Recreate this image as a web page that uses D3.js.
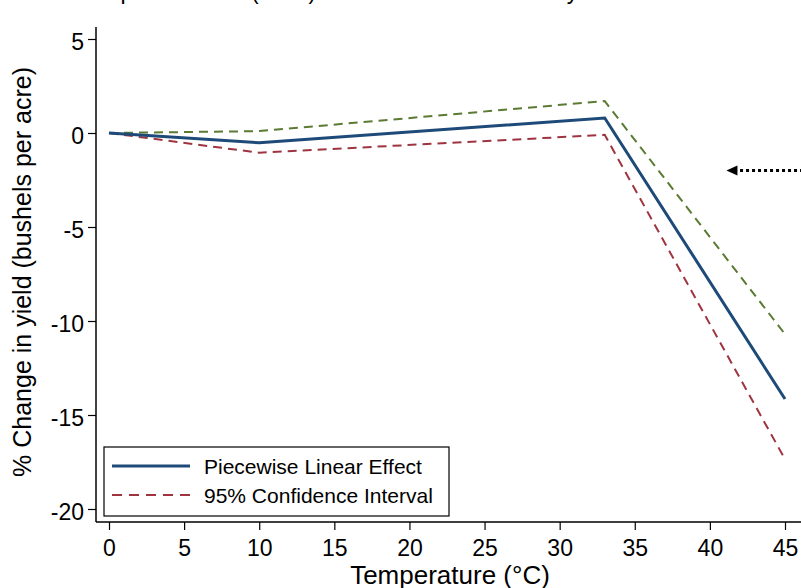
<!DOCTYPE html>
<html>
<head>
<meta charset="utf-8">
<script src="https://cdn.jsdelivr.net/npm/d3@7"></script>
<style>
  html, body { margin: 0; padding: 0; background: #fff; }
  svg { display: block; font-family: "Liberation Sans", Arial, sans-serif; }
</style>
</head>
<body>
<div id="chart"></div>
<script>
// Piecewise linear temperature effect with 95% CI
const temps = [0, 10, 33, 45];
const effect = [0, -0.52, 0.8, -14.15];
const upperCI = [0, 0.1, 1.7, -10.7];
const lowerCI = [0, -1.05, -0.1, -17.35];
const xTicks = [0, 5, 10, 15, 20, 25, 30, 35, 40, 45];
const yTicks = [5, 0, -5, -10, -15, -20];
const arrowFrom = [47, -2];
const arrowTo = [41.1, -2];

const W = 801, H = 588;
const svg = d3.select('#chart').append('svg').attr('width', W).attr('height', H);

const x = d3.scaleLinear().domain([0, 45]).range([109, 785]);
const y = d3.scaleLinear().domain([-20, 5]).range([509, 39]);
const axisX = 96, axisY = 522;
const fmt = (d) => String(d); // plain hyphen minus, like the original

// title, mostly cut off at the top edge
svg.append('text')
  .attr('x', 95).attr('y', -1)
  .style('font-size', '23px')
  .attr('fill', '#000')
  .text('Impact of Heat (Corn) on Estimated Mean Daily');

// y axis
const gy = svg.append('g').attr('transform', `translate(${axisX},0)`)
  .call(d3.axisLeft(y).tickValues(yTicks).tickFormat(fmt).tickSize(8).tickPadding(4).tickSizeOuter(0));
gy.select('.domain').attr('d', `M0,27V${axisY}`).attr('stroke', '#000').attr('stroke-width', 1.5);
gy.selectAll('line').attr('stroke', '#000').attr('stroke-width', 1.2);
gy.selectAll('text').attr('fill', '#000').attr('dy', '0.45em').style('font-size', '23px')
  .style('font-family', '"Liberation Sans", Arial, sans-serif');

// x axis
const gx = svg.append('g').attr('transform', `translate(0,${axisY})`)
  .call(d3.axisBottom(x).tickValues(xTicks).tickFormat(fmt).tickSize(8).tickPadding(10).tickSizeOuter(0));
gx.select('.domain').attr('d', `M${axisX},0H${W}`).attr('stroke', '#000').attr('stroke-width', 1.5);
gx.selectAll('line').attr('stroke', '#000').attr('stroke-width', 1.2);
gx.selectAll('text').attr('fill', '#000').style('font-size', '23px')
  .style('font-family', '"Liberation Sans", Arial, sans-serif');

// axis titles
svg.append('text')
  .attr('x', 450).attr('y', 584)
  .attr('text-anchor', 'middle')
  .style('font-size', '26px')
  .text('Temperature (°C)');

svg.append('text')
  .attr('transform', 'translate(31,272) rotate(-90)')
  .attr('text-anchor', 'middle')
  .style('font-size', '25px')
  .text('% Change in yield (bushels per acre)');

const line = d3.line().x((d) => x(d[0])).y((d) => y(d[1]));
const pts = (vals) => temps.map((t, i) => [t, vals[i]]);

svg.append('path').datum(pts(upperCI))
  .attr('d', line).attr('fill', 'none')
  .attr('stroke', '#5b7a32').attr('stroke-width', 2).attr('stroke-dasharray', '9,6');
svg.append('path').datum(pts(lowerCI))
  .attr('d', line).attr('fill', 'none')
  .attr('stroke', '#9e3440').attr('stroke-width', 2).attr('stroke-dasharray', '9,6');
svg.append('path').datum(pts(effect))
  .attr('d', line).attr('fill', 'none')
  .attr('stroke', '#1d4a78').attr('stroke-width', 3).attr('stroke-linejoin', 'miter');

// dotted arrow annotation
svg.append('line')
  .attr('x1', x(arrowFrom[0])).attr('y1', y(arrowFrom[1]))
  .attr('x2', x(arrowTo[0]) + 8).attr('y2', y(arrowTo[1]))
  .attr('stroke', '#000').attr('stroke-width', 3).attr('stroke-dasharray', '3,3');
const ax = x(arrowTo[0]), ay = y(arrowTo[1]);
svg.append('path')
  .attr('d', `M${ax},${ay}L${ax + 11},${ay - 5}L${ax + 11},${ay + 5}Z`)
  .attr('fill', '#000');

// legend
const legend = svg.append('g');
legend.append('rect')
  .attr('x', 104).attr('y', 447).attr('width', 345).attr('height', 69)
  .attr('fill', '#fff').attr('stroke', '#000').attr('stroke-width', 1.2);
const items = [
  { label: 'Piecewise Linear Effect', color: '#1d4a78', w: 3, dash: null },
  { label: '95% Confidence Interval', color: '#9e3440', w: 2, dash: '10,7' }
];
items.forEach((it, i) => {
  const ly = 466 + i * 29;
  legend.append('line')
    .attr('x1', 112).attr('x2', 190).attr('y1', ly).attr('y2', ly)
    .attr('stroke', it.color).attr('stroke-width', it.w)
    .attr('stroke-dasharray', it.dash);
  legend.append('text')
    .attr('x', 204).attr('y', ly + 8)
    .style('font-size', '21px')
    .text(it.label);
});
</script>
</body>
</html>
